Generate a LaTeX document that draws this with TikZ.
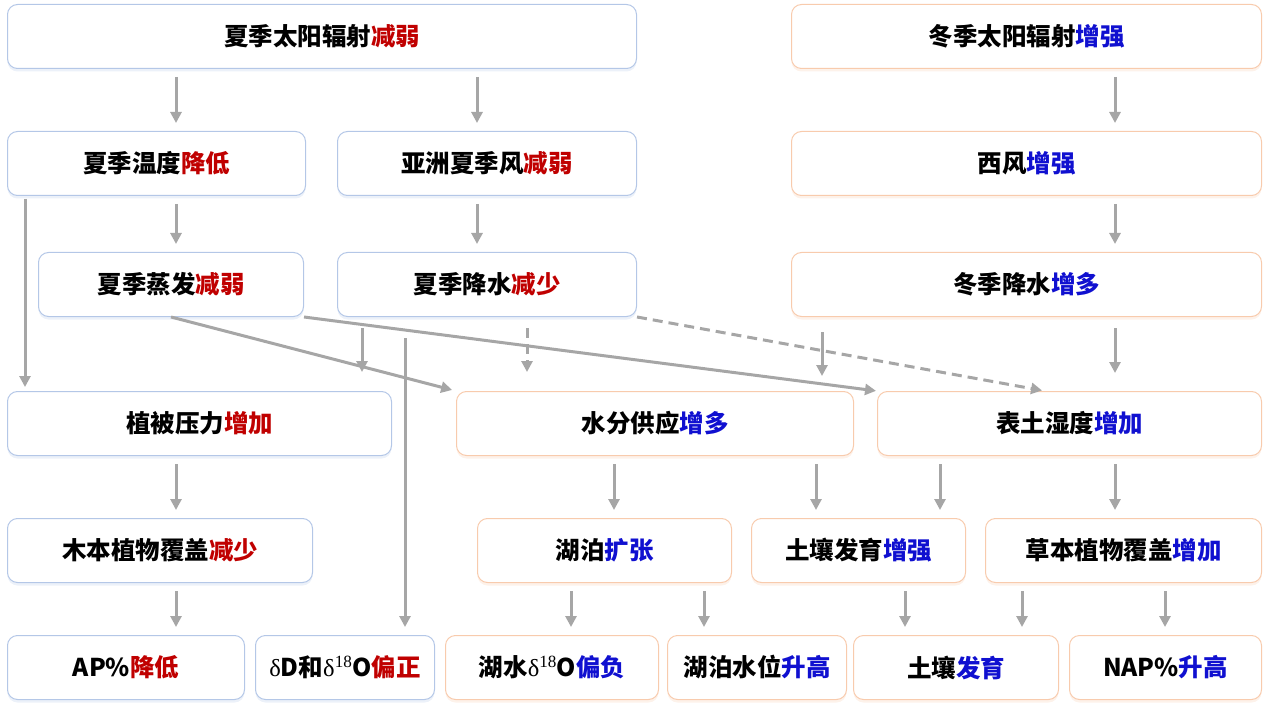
\documentclass[tikz,border=0pt]{standalone}
\usepackage{fontspec}
\setmainfont{Noto Sans CJK SC}
\newfontfamily\grk{Liberation Serif}
\usetikzlibrary{arrows.meta,shadows}
\definecolor{lnblue}{HTML}{B4C7E7}
\definecolor{lnorange}{HTML}{F8CBAD}
\definecolor{txred}{HTML}{C00000}
\definecolor{txblue}{HTML}{1010D0}
\definecolor{argray}{HTML}{A6A6A6}
\newcommand{\dectxt}[1]{\textcolor{txred}{#1}}
\newcommand{\inctxt}[1]{\textcolor{txblue}{#1}}
\newcommand{\delt}{{\grk\mdseries δ}}

\begin{document}
\begin{tikzpicture}[x=1pt,y=-1pt,
  font=\fontsize{24.5}{28}\selectfont\bfseries,
  box/.style={rounded corners=10pt,line width=1pt,fill=white,anchor=north west,
              inner sep=0pt,align=center,minimum height=64pt,minimum width=#1},
  bb/.style={box=#1,draw=lnblue,
             drop shadow={shadow xshift=0pt,shadow yshift=-3pt,opacity=.25,fill=lnblue}},
  ob/.style={box=#1,draw=lnorange,
             drop shadow={shadow xshift=0pt,shadow yshift=-3pt,opacity=.25,fill=lnorange}},
  ar/.style={draw=argray,line width=3pt,-{Triangle[length=11pt,width=11pt,fill=argray]}},
  vr/.style={ar,shorten <=8pt,shorten >=8pt},
  dar/.style={ar,dash pattern=on 10pt off 6pt}]
\useasboundingbox (0,0) rectangle (1268,711);
% summer side
\node[bb=629] (sunS) at (7,4) {夏季太阳辐射\dectxt{减弱}};
\node[bb=298] (tempS) at (7,131) {夏季温度\dectxt{降低}};
\node[bb=299] (monS) at (337,131) {亚洲夏季风\dectxt{减弱}};
\node[bb=265] (evapS) at (38,252) {夏季蒸发\dectxt{减弱}};
\node[bb=299] (precS) at (337,252) {夏季降水\dectxt{减少}};
\node[bb=384] (vegP) at (7,391) {植被压力\dectxt{增加}};
\node[bb=305] (wood) at (7,518) {木本植物覆盖\dectxt{减少}};
\node[bb=237] (ap) at (7,635) {AP\%\dectxt{降低}};
\node[bb=179] (dd) at (255,635) {\delt D和\delt\textsuperscript{\grk\mdseries 18}O\dectxt{偏正}};
% winter side
\node[ob=470] (sunW) at (791,4) {冬季太阳辐射\inctxt{增强}};
\node[ob=470] (westW) at (791,131) {西风\inctxt{增强}};
\node[ob=470] (precW) at (791,252) {冬季降水\inctxt{增多}};
\node[ob=397] (waterS) at (456,391) {水分供应\inctxt{增多}};
\node[ob=384] (soilM) at (877,391) {表土湿度\inctxt{增加}};
\node[ob=254] (lake) at (477,518) {湖泊\inctxt{扩张}};
\node[ob=214] (soilE) at (751,518) {土壤发育\inctxt{增强}};
\node[ob=276] (herb) at (985,518) {草本植物覆盖\inctxt{增加}};
\node[ob=213] (lakeO) at (445,635) {湖水\delt\textsuperscript{\grk\mdseries 18}O\inctxt{偏负}};
\node[ob=179] (lakeL) at (667,635) {湖泊水位\inctxt{升高}};
\node[ob=205] (soil) at (853,635) {土壤\inctxt{发育}};
\node[ob=192] (nap) at (1069,635) {NAP\%\inctxt{升高}};
% straight links
\foreach \a/\b/\x in {sunS/tempS/176,sunS/monS/477,sunW/westW/1115,
    tempS/evapS/176,monS/precS/477,westW/precW/1115,
    vegP/wood/176,waterS/lake/614,waterS/soilE/816,soilM/soilE/940,soilM/herb/1115,
    wood/ap/176,lake/lakeO/571,lake/lakeL/704,soilE/soil/905,herb/soil/1022,herb/nap/1165}
  \draw[vr] (\a.south -| \x,0) -- (\b.north -| \x,0);
\draw[ar,shorten <=3pt,shorten >=4pt] (tempS.south -| 25,0) -- (vegP.north -| 25,0);
\draw[ar,shorten <=11pt,shorten >=19pt] (precS.south -| 362,0) -- (vegP.north -| 362,0);
\draw[ar,shorten <=21pt,shorten >=8pt] (precS.south -| 405,0) -- (dd.north -| 405,0);
\draw[dar,shorten <=11pt,shorten >=19pt] (precS.south -| 527,0) -- (waterS.north -| 527,0);
\draw[ar,shorten <=15pt,shorten >=15pt] (precW.south -| 822,0) -- (waterS.north -| 822,0);
\draw[ar,shorten <=11pt,shorten >=18pt] (precW.south -| 1115,0) -- (soilM.north -| 1115,0);
% cross links
\draw[ar,shorten >=4pt] (evapS.south) -- (waterS.north west);
\draw[ar,shorten >=1pt] (evapS.south east) -- (soilM.north west);
\draw[dar,shorten >=3pt] (precS.south east) -- (soilM.north -| 1045,0);
\end{tikzpicture}
\end{document}
